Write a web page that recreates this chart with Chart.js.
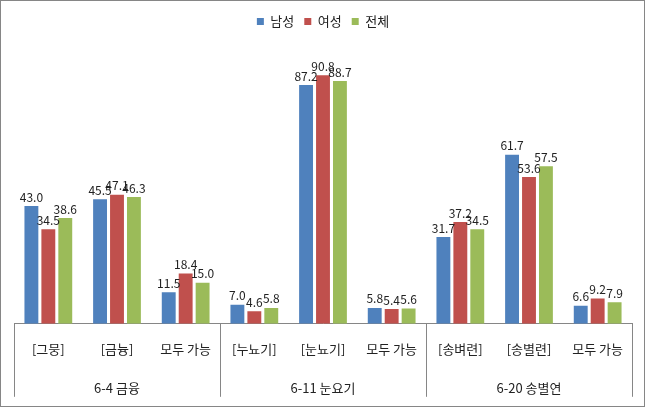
<!DOCTYPE html>
<html>
<head>
<meta charset="utf-8">
<script src="https://cdn.jsdelivr.net/npm/chart.js@4"></script>
<style>
  body { margin: 0; background: #fff; }
  #wrap { width: 645px; height: 407px; box-sizing: border-box; border: 1px solid #868686; }
</style>
</head>
<body>
<div id="wrap"><canvas id="chartSurvey" width="643" height="405"></canvas></div>
<script>
const categories = ['[그뭉]', '[금늉]', '모두 가능', '[누뇨기]', '[눈뇨기]', '모두 가능', '[송벼련]', '[송별련]', '모두 가능'];
const groups = ['6-4 금융', '6-11 눈요기', '6-20 송별연'];
const male = [43.0, 45.5, 11.5, 7.0, 87.2, 5.8, 31.7, 61.7, 6.6];
const female = [34.5, 47.1, 18.4, 4.6, 90.8, 5.4, 37.2, 53.6, 9.2];
const total = [38.6, 46.3, 15.0, 5.8, 88.7, 5.6, 34.5, 57.5, 7.9];

const fontFamily = "'Noto Sans CJK KR', 'Noto Sans', sans-serif";

// values above each bar
const valueLabels = {
    id: 'valueLabels',
    afterDatasetsDraw(chart) {
        const ctx = chart.ctx;
        ctx.save();
        ctx.font = '12px ' + fontFamily;
        ctx.fillStyle = '#222';
        ctx.textAlign = 'center';
        ctx.textBaseline = 'bottom';
        chart.data.datasets.forEach((ds, i) => {
            chart.getDatasetMeta(i).data.forEach((bar, j) => {
                ctx.fillText(ds.data[j].toFixed(1), bar.x, bar.y - 3);
            });
        });
        ctx.restore();
    }
};

// extra room under the legend
const legendGap = {
    id: 'legendGap',
    beforeInit(chart) {
        const fit = chart.legend.fit;
        chart.legend.fit = function () {
            fit.bind(chart.legend)();
            this.height += 12;
        };
    }
};

// group dividers under the axis
const groupLines = {
    id: 'groupLines',
    afterDraw(chart) {
        const ctx = chart.ctx;
        const x = chart.scales.x;
        const bottom = chart.chartArea.bottom;
        ctx.save();
        ctx.strokeStyle = '#868686';
        ctx.lineWidth = 1;
        [0, 3, 6, 9].forEach(i => {
            const px = Math.round(x.getPixelForValue(i - 0.5)) + 0.5;
            ctx.beginPath();
            ctx.moveTo(px, bottom);
            ctx.lineTo(px, bottom + 73);
            ctx.stroke();
        });
        ctx.restore();
    }
};

const ctx = document.getElementById('chartSurvey').getContext('2d');
new Chart(ctx, {
    type: 'bar',
    data: {
        labels: categories,
        datasets: [
            { label: '남성', data: male, backgroundColor: '#4F81BD' },
            { label: '여성', data: female, backgroundColor: '#C0504D' },
            { label: '전체', data: total, backgroundColor: '#9BBB59' }
        ]
    },
    options: {
        responsive: false,
        animation: false,
        categoryPercentage: 0.74,
        barPercentage: 0.82,
        layout: { padding: { left: 13, right: 12, top: 4, bottom: 3 } },
        plugins: {
            legend: {
                position: 'top',
                labels: {
                    boxWidth: 7,
                    boxHeight: 7,
                    padding: 10,
                    color: '#222',
                    font: { size: 13, family: fontFamily }
                }
            },
            tooltip: { enabled: false }
        },
        scales: {
            y: { display: false, min: 0, max: 100 },
            x: {
                grid: { display: false, drawTicks: false },
                border: { display: true, color: '#868686' },
                ticks: {
                    padding: 17,
                    color: '#222',
                    maxRotation: 0,
                    autoSkip: false,
                    font: { size: 13, family: fontFamily }
                }
            },
            x2: {
                type: 'category',
                position: 'bottom',
                labels: groups,
                grid: { display: false, drawTicks: false },
                border: { display: false },
                ticks: {
                    padding: 7,
                    color: '#222',
                    maxRotation: 0,
                    font: { size: 13, family: fontFamily }
                }
            }
        }
    },
    plugins: [valueLabels, legendGap, groupLines]
});
</script>
</body>
</html>
